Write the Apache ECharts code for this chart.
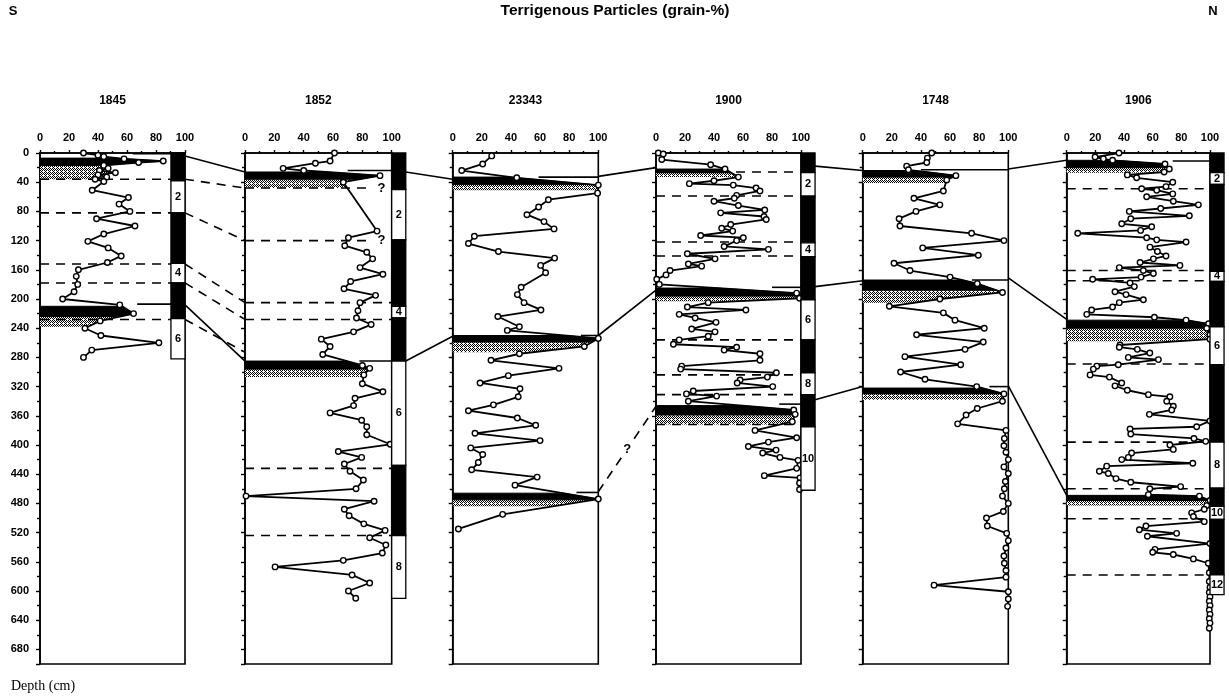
<!DOCTYPE html>
<html>
<head>
<meta charset="UTF-8">
<title>Terrigenous Particles</title>
<style>html,body{margin:0;padding:0;background:#fff;}#chart{width:1229px;height:697px;}</style>
</head>
<body>
<div id="chart"></div>
<script src="https://cdn.jsdelivr.net/npm/echarts@6/dist/echarts.min.js"></script>
<script>
var chart = echarts.init(document.getElementById('chart'));

// cores, south to north
var cores = ['1845', '1852', '23343', '1900', '1748', '1906'];

// depth (cm) and terrigenous particles (grain-%)
var depth1845 = [0,3,5,8,11,13,17,21,24,27,30,33,36,39,51,61,70,80,90,100,111,121,130,141,150,160,169,180,190,200,208,220,230,240,250,260,270,280];
var grain1845 = [30,40,44,58,85,68,44,47,41,52,40,46,38,44,36,61,54.5,62,39,65.5,44,33,47,56,46.5,26.5,25,26,23.5,15.6,55,64.5,41.5,31,42,82,35.7,30];

var depth1852 = [0,11,14,21,24,31,40,107,116,127,136,145,157,166,176,186,195,205,216,226,235,245,255,265,276,291,295,304,316,327,336,346,356,366,375,386,399,409,417,426,436,448,460,470,477,488,497,508,517,527,537,548,558,567,578,589,600,610];
var grain1852 = [61,58,48,26,40,92,67,90,70.5,68,83,87,78.4,94,72,67.5,89,78.4,77,76,86,74,52,58,53,80,85,81,80,94,75,74,58,79.5,83,83,99,63.6,79.5,67.7,71.6,80.7,75.7,0.7,88,67.7,71,81,95.5,85,96,93.6,67,20.5,73,85,70.5,75.5];

var depth23343 = [4,15,24,34,44,55,64,74,84.5,94,104,114,124,135,144,154,164,184,194,205,215,224,238,243,254,265,275,284,295,305,315,323,334,345,353,363,373,384,394,404,413,424,434,444,455,474,495,515];
var grain23343 = [26.8,20.6,6.2,44,100,99.5,65.7,59,51,62.7,69.6,14.9,10.8,31.4,70,60.4,63.8,47,44.4,49,60.6,31,45.8,37.5,100,90.4,45.8,26.3,73,38.2,18.8,46.2,45,28,10.8,44.4,57,15.3,60,12.4,20.6,17.6,13,58,42.8,100,34.3,3.9];

var depth1900 = [0,1.4,9,16,22,33,38,42,44,48,52,58,62,66,72,78,82,87,91,98,103,107,113,116,120,128,132,138,145,152,155,161,167,173,180,192,199,205,211,215,221,226,232,241,245,251,256,262,266,270,275,284,292,296,301,307,311,315,320,326,330,333,340,352,358,368,380,390,396,402,407,411,417,421,432,442,445,452,461];
var grain1900 = [1.6,5,4,37.7,47.6,56.8,40,23,53.3,69,71.7,55.6,54,40,56.8,75,44.6,74.5,76,51.5,45.3,52.9,30.8,60.2,55.6,47,77.5,21.6,40.7,22.3,31.5,9.7,6.9,0.5,2.3,97,99,36,21.6,62,16,27,41.4,24.6,40.7,36,16,12,55.6,47,71.7,71.7,17.7,17,83,76.8,58,56,80.5,25.7,21,41.8,22.3,95,96,94,68.3,97,77.5,63.7,82.8,73.6,85.5,98,97,74.7,99.3,99,99];

var depth1748 = [0,7,13,18,23,31,37,52,62,71,80,90,100,110,120,130,140,151,161,170,179,191,200,210,219,229,240,249,259,269,279,290,300,310,320,330,340,350,359,371,380,391,401,410,420,430,439,450,460,470,480,491,500,511,521,531,541,552,562,572,581,592,601,611,621];
var grain1748 = [47.4,44.4,44,30.2,31.4,64,57.7,55.4,35.2,53,36.6,25,25.6,74.8,97,41.2,79.4,21.5,32.5,60,78.7,96,53,18.3,55.4,63.4,83.5,37,82.8,70.3,29,67.3,26,42.8,78.3,97,96,78.7,71,65.2,98.4,97.3,97,98.4,100,97,100,98,97.3,96,100,96.6,85,85.6,98.9,100,98.4,97,97.3,98.4,98.4,49,100,100,99.5];

var depth1906 = [0,5.5,8,10,15,22,26,30,34,40,46,49,51,56,60,66,71,76,80,86,90,97,101,106,110,116,119,122,129,135,141,145,150,154,157,161,165,170,173,178,183,190,194,201,205,211,215,221,225,229,234,240,249,255,263,266,269,274,280,283,290,292,296,304,307,315,319,325,331,334,340,347,352,358,
  367,375,378,385,391,395,400,406,411,417,420,425,429,436,439,446,451,457,460,468,470,476,483,488,493,498,505,511,516,521,525,535,543,547,550,556,562,575,587,595,602,608,614,620,626,632,638,644,651];
var grain1906 = [36.5,19.8,25.6,32,68.6,71.6,68,42.3,48.8,74,69.3,52.3,62.8,74,55.8,74.4,91.9,65.6,43.7,85.6,44.7,38.4,59.3,51.6,7.7,55.8,62.8,83.3,58.1,63.3,69.3,60.5,51.2,79,36.7,53.5,60.5,51.9,18.1,44.2,47.2,33.7,41.4,53.5,36.7,32,17.4,14,61.2,83.3,99,97.7,100,100,37.2,36.7,49.3,58,43,64,36,21,18.6,16.3,29.8,38.4,33.7,42.3,57,72,69.8,74.4,73.3,57.7,
  100,90.7,44.2,44.7,88.8,97,72,74.4,45.3,43,38.4,88,27.9,22.8,29,34.4,44.7,79.5,58,57,92.6,100,97.7,96,87.2,88.4,96,55.3,50.7,76.7,56.3,100,61.6,60,74.4,88.4,98.8,99.5,99.5,100,99.5,100,99.5,100,99.5,100,99.5,100,99.5];

var depths = [depth1845, depth1852, depth23343, depth1900, depth1748, depth1906];
var grains = [grain1845, grain1852, grain23343, grain1900, grain1748, grain1906];

// ash layers: [black top, black bottom, stippled bottom] (cm)
var tephra = [
  [[7,17,36],[210,224,238]],
  [[26,36,48],[285,296,307]],
  [[33,43,51],[250,259,273],[466,475,484]],
  [[22,27,33],[185,196,203],[346,359,372]],
  [[24,33,41],[174,188,205],[322,330,338]],
  [[10,20,27],[229,240,258],[469,476,483]]
];
// solid marks at ash layer tops: [depth, grain-% where the mark starts]
var tephraTop = [
  [[1,64],[207,67]],
  [[24,70],[285,78]],
  [[33,59],[250,88],[465,85]],
  [[184,80],[344,85]],
  [[23,40],[174,75],[320,87]],
  [[11,74]]
];
// dashed stratigraphic horizons (cm); uncertain ones get a "?"
var horizons = [[36,82,152,178,228],[48,120,205,228,432,524],[],[26,59,122,141,256,304,331,372],[],[49,161,175,289,396,460,501,578]];
var uncertain = [[],[48,120],[],[],[],[]];

// isotope stages column: boundaries (cm) and stage numbers of the white boxes
var stageBounds = [[0,38,82,151,178,227,282],[0,50,119,210,226,285,428,524,610],null,[0,27,59,123,142,201,256,301,331,375,462],null,[0,27,43,162,176,238,290,396,459,484,502,578,605]];
var stageLabels = [['2','4','6'],['2','4','6','8'],null,['2','4','6','8','10'],null,['2','4','6','8','10','12']];

// correlations between neighbouring cores: [depth left core, depth right core, 0 solid / 1 dashed / 2 dashed with ?]
var links = [
  [[4,26,0],[36,48,1],[82,120,1],[152,205,1],[178,228,1],[208,285,0],[228,273,1]],
  [[26,36,0],[285,251,0]],
  [[32,20,0],[250,188,0],[464,347,2]],
  [[18,24,0],[183,175,0],[338,320,0]],
  [[22,10,0],[171,228,0],[319,469,0]]
];

// layout
var gridLeft = [40, 245, 452.7, 656, 862.7, 1066.7];
var gridWidth = [145, 146.7, 145.6, 145, 145.6, 143.3];
var stageSpan = [[90.3,100],[100,109.6],null,[100,109.7],null,[100,109.8]];
var FONT = 'Liberation Sans';

// stipple pattern
var dots = document.createElement('canvas');
dots.width = 4; dots.height = 4;
var g = dots.getContext('2d');
g.fillStyle = '#fff'; g.fillRect(0, 0, 4, 4);
g.fillStyle = '#000';
[[0,0],[2,0],[1,1],[3,1],[0,2],[2,2],[1,3]].forEach(function (p) { g.fillRect(p[0], p[1], 1, 1); });
var stipple = {image: dots, repeat: 'repeat'};

function curveAt(ds, vs, d) {
  for (var i = 0; i < ds.length - 1; i++) {
    if (d >= ds[i] && d <= ds[i + 1]) {
      var t = (d - ds[i]) / ((ds[i + 1] - ds[i]) || 1);
      return vs[i] + t * (vs[i + 1] - vs[i]);
    }
  }
  return d < ds[0] ? vs[0] : vs[vs.length - 1];
}
// area between depth axis and the curve from d0 to d1
function areaUnder(ds, vs, d0, d1) {
  var pts = [[0, d0], [curveAt(ds, vs, d0), d0]];
  for (var i = 0; i < ds.length; i++) {
    if (ds[i] > d0 && ds[i] < d1) pts.push([vs[i], ds[i]]);
  }
  pts.push([curveAt(ds, vs, d1), d1], [0, d1]);
  return pts;
}

var grids = [], xAxes = [], yAxes = [], series = [];

cores.forEach(function (name, i) {
  var ds = depths[i], vs = grains[i];
  grids.push({left: gridLeft[i], top: 153, width: gridWidth[i], height: 511, show: true, borderColor: '#000', borderWidth: 1.6});
  xAxes.push({
    gridIndex: i, type: 'value', position: 'top', min: 0, max: 100, interval: 20,
    axisLine: {lineStyle: {color: '#000', width: 1.6}},
    axisTick: {length: 3, lineStyle: {color: '#000', width: 1.4}},
    minorTick: {show: true, splitNumber: 2, length: 2, lineStyle: {color: '#000', width: 1.4}},
    axisLabel: {margin: 10, color: '#000', fontSize: 11, fontWeight: 'bold', fontFamily: FONT},
    splitLine: {show: false}
  });
  yAxes.push({
    gridIndex: i, type: 'value', inverse: true, min: 0, max: 700, interval: 40,
    axisLine: {lineStyle: {color: '#000', width: 1.6}},
    axisTick: {length: 4, lineStyle: {color: '#000', width: 1.4}},
    minorTick: {show: true, splitNumber: 2, length: 3, lineStyle: {color: '#000', width: 1.4}},
    axisLabel: {show: i === 0, showMaxLabel: false, margin: 11, color: '#000', fontSize: 11, fontWeight: 'bold', fontFamily: FONT},
    splitLine: {show: false}
  });

  // ash layers
  series.push({
    type: 'custom', xAxisIndex: i, yAxisIndex: i, z: 1, silent: true,
    data: tephra[i].map(function (t) { return [0, t[0]]; }),
    renderItem: function (params, api) {
      var t = tephra[i][params.dataIndex];
      var toPx = function (p) { return api.coord(p); };
      return {type: 'group', children: [
        {type: 'polygon', shape: {points: areaUnder(ds, vs, t[1], t[2]).map(toPx)}, style: {fill: stipple}},
        {type: 'polygon', shape: {points: areaUnder(ds, vs, t[0], t[1]).map(toPx)}, style: {fill: '#000', stroke: '#000', lineWidth: 1}}
      ]};
    }
  });
  // ash layer top marks
  series.push({
    type: 'custom', xAxisIndex: i, yAxisIndex: i, z: 2, silent: true,
    data: tephraTop[i].map(function (t) { return [t[1], t[0]]; }),
    renderItem: function (params, api) {
      var t = tephraTop[i][params.dataIndex];
      var a = api.coord([t[1], t[0]]), b = api.coord([100, t[0]]);
      return {type: 'line', shape: {x1: a[0], y1: a[1], x2: b[0], y2: b[1]}, style: {stroke: '#000', lineWidth: 1.6}};
    }
  });
  // dashed horizons
  series.push({
    type: 'custom', xAxisIndex: i, yAxisIndex: i, z: 2, silent: true,
    data: horizons[i].map(function (d) { return [0, d]; }),
    renderItem: function (params, api) {
      var d = horizons[i][params.dataIndex];
      var q = uncertain[i].indexOf(d) >= 0;
      var a = api.coord([0, d]), b = api.coord([q ? 86 : 100, d]);
      var kids = [{type: 'line', shape: {x1: a[0], y1: a[1], x2: b[0], y2: b[1]}, style: {stroke: '#000', lineWidth: 1.6, lineDash: [9, 7]}}];
      if (q) {
        var c = api.coord([93, d]);
        kids.push({type: 'text', style: {x: c[0], y: c[1], text: '?', textAlign: 'center', textVerticalAlign: 'middle', font: 'bold 13px ' + FONT, fill: '#000'}});
      }
      return {type: 'group', children: kids};
    }
  });
  // grain-% curve
  series.push({
    name: name, type: 'line', xAxisIndex: i, yAxisIndex: i, z: 3,
    data: ds.map(function (d, k) { return [vs[k], d]; }),
    symbol: 'circle', symbolSize: 5.5,
    itemStyle: {color: '#fff', borderColor: '#000', borderWidth: 1.4},
    lineStyle: {color: '#000', width: 1.8},
    animation: false, silent: true
  });
  // stage column
  if (stageBounds[i]) {
    var segs = [];
    for (var k = 0; k < stageBounds[i].length - 1; k++) segs.push([stageBounds[i][k], stageBounds[i][k + 1]]);
    series.push({
      type: 'custom', xAxisIndex: i, yAxisIndex: i, z: 4, silent: true, clip: false,
      data: segs.map(function (s) { return [100, s[0]]; }),
      renderItem: function (params, api) {
        var s = segs[params.dataIndex];
        var a = api.coord([stageSpan[i][0], s[0]]), b = api.coord([stageSpan[i][1], s[1]]);
        var white = params.dataIndex % 2 === 1;
        var kids = [{type: 'rect', shape: {x: a[0], y: a[1], width: b[0] - a[0], height: b[1] - a[1]},
          style: {fill: white ? '#fff' : '#000', stroke: '#000', lineWidth: 1.3}}];
        if (white) {
          kids.push({type: 'text', style: {x: (a[0] + b[0]) / 2, y: (a[1] + b[1]) / 2,
            text: stageLabels[i][(params.dataIndex - 1) / 2], textAlign: 'center', textVerticalAlign: 'middle',
            font: 'bold 11px ' + FONT, fill: '#000'}});
        }
        return {type: 'group', children: kids};
      }
    });
  }
});

chart.setOption({
  backgroundColor: '#fff',
  animation: false,
  grid: grids,
  xAxis: xAxes,
  yAxis: yAxes,
  series: series
});

// texts and correlation lines between cores
var graphics = [
  {type: 'text', x: 615, y: 11, style: {text: 'Terrigenous Particles (grain-%)', font: 'bold 15.5px ' + FONT, fill: '#000', textAlign: 'center', textVerticalAlign: 'middle'}},
  {type: 'text', x: 13, y: 11, style: {text: 'S', font: 'bold 13px ' + FONT, fill: '#000', textAlign: 'center', textVerticalAlign: 'middle'}},
  {type: 'text', x: 1213, y: 11, style: {text: 'N', font: 'bold 13px ' + FONT, fill: '#000', textAlign: 'center', textVerticalAlign: 'middle'}},
  {type: 'text', x: 11, y: 686, style: {text: 'Depth (cm)', font: '14px Liberation Serif', fill: '#000', textAlign: 'left', textVerticalAlign: 'middle'}}
];
cores.forEach(function (name, i) {
  graphics.push({type: 'text', x: gridLeft[i] + gridWidth[i] / 2, y: 101,
    style: {text: name, font: 'bold 12px ' + FONT, fill: '#000', textAlign: 'center', textVerticalAlign: 'middle'}});
});
links.forEach(function (set, k) {
  set.forEach(function (l) {
    var a = chart.convertToPixel({gridIndex: k}, [stageSpan[k] ? stageSpan[k][1] : 100, l[0]]);
    var b = chart.convertToPixel({gridIndex: k + 1}, [0, l[1]]);
    graphics.push({type: 'line', z: 5, shape: {x1: a[0], y1: a[1], x2: b[0], y2: b[1]},
      style: {stroke: '#000', lineWidth: 1.6, lineDash: l[2] ? [9, 7] : null}});
    if (l[2] === 2) {
      graphics.push({type: 'text', z: 6, x: (a[0] + b[0]) / 2, y: (a[1] + b[1]) / 2,
        style: {text: '?', font: 'bold 13px ' + FONT, fill: '#000', textAlign: 'center', textVerticalAlign: 'middle',
          backgroundColor: '#fff', padding: [2, 2]}});
    }
  });
});
chart.setOption({graphic: graphics});
</script>
</body>
</html>
